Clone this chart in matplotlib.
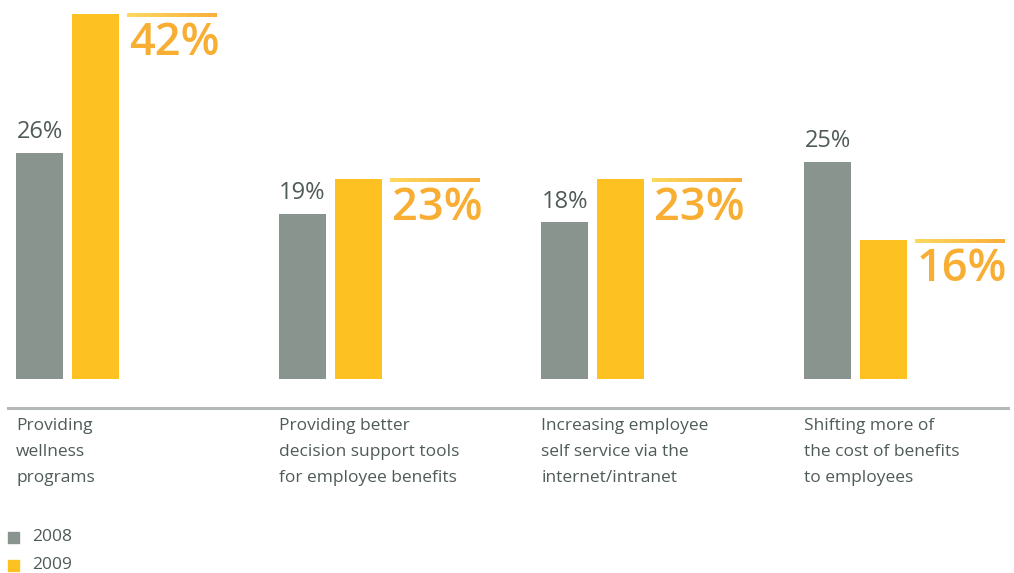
import matplotlib
matplotlib.use("Agg")
import matplotlib.pyplot as plt
import numpy as np
from matplotlib.lines import Line2D
from matplotlib.patches import Rectangle

plt.rcParams['font.family'] = ['Open Sans', 'DejaVu Sans']

# survey data
categories = [
    "Providing\nwellness\nprograms",
    "Providing better\ndecision support tools\nfor employee benefits",
    "Increasing employee\nself service via the\ninternet/intranet",
    "Shifting more of\nthe cost of benefits\nto employees",
]
years = ["2008", "2009"]
vals_2008 = [26, 19, 18, 25]
vals_2009 = [42, 23, 23, 16]

GRAY = '#8a948e'
YELLOW = '#fdc221'
ORANGE = '#f8ae33'
DARK = '#4f5b56'
RULE = '#b4b9b6'

W, H = 1014, 573
fig = plt.figure(figsize=(W / 100, H / 100), dpi=100)
fig.patch.set_facecolor('white')

# bar area: baseline at 379px, 8.7 px per percent, 262.67 px between groups
step = 262.67
base_px = 379
px_per = 8.7
ax = fig.add_axes([0, (H - base_px) / H, 1, base_px / H])
ax.axis('off')

x = np.arange(len(categories))
bw = 47 / step
off = 56 / step
ax.bar(x, vals_2008, width=bw, color=GRAY)
ax.bar(x + off, vals_2009, width=bw, color=YELLOW)

for xi, v in zip(x, vals_2008):
    ax.text(xi, v + 1.0, f"{v}%", ha='center', va='bottom', fontsize=17, color=DARK)

# big 2009 labels with a gradient rule on top
grad = np.linspace(0, 1, 256).reshape(1, -1)
cmap = matplotlib.colors.LinearSegmentedColormap.from_list('rule', ['#fdd95e', '#f8ae3c'])
for xi, v in zip(x, vals_2009):
    x0 = xi + off + bw / 2 + 8 / step
    x1 = x0 + 90 / step
    ax.imshow(grad, cmap=cmap, extent=[x0, x1, v - 0.35, v], aspect='auto', zorder=3)
    ax.text(x0 + 2 / step, v - 0.8, f"{v}%", ha='left', va='top', fontsize=32.5,
            fontweight='semibold', color=ORANGE)
ax.set_xlim(-39.5 / step, (W - 39.5) / step)
ax.set_ylim(0, base_px / px_per)

# separator rule
fig.add_artist(Line2D([8 / W, 1008 / W], [1 - 408 / H, 1 - 408 / H], color=RULE, lw=2.2))

# category labels, left aligned with the gray bars
for i, c in enumerate(categories):
    fig.text((16 + i * step) / W, 1 - 418 / H, c, ha='left', va='top', fontsize=12.5,
             color=DARK, linespacing=1.82)

# legend
for yy, col, lab in zip([537, 565], [GRAY, YELLOW], years):
    fig.add_artist(Rectangle((8 / W, 1 - (yy + 5.5) / H), 11 / W, 11 / H, color=col,
                             transform=fig.transFigure))
    fig.text(32 / W, 1 - yy / H, lab, ha='left', va='center', fontsize=12.5, color=DARK)

fig.savefig('out.png', dpi=100, facecolor='white')
